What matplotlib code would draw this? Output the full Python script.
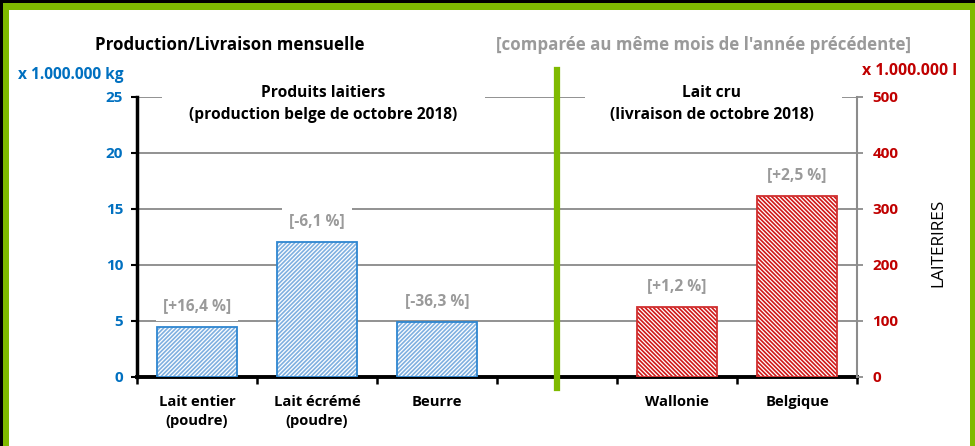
import matplotlib
matplotlib.use("Agg")
import matplotlib.pyplot as plt
from matplotlib.lines import Line2D
from matplotlib.patches import Rectangle
from matplotlib.transforms import blended_transform_factory

# Data
categories = ["Lait entier\n(poudre)", "Lait écrémé\n(poudre)", "Beurre", "", "Wallonie", "Belgique"]
dairy_pos = [0, 1, 2]
dairy_values = [4.45, 12.05, 4.9]          # x 1.000.000 kg
dairy_changes = ["[+16,4 %]", "[-6,1 %]", "[-36,3 %]"]
milk_pos = [4, 5]
milk_values = [125, 323]                   # x 1.000.000 l
milk_changes = ["[+1,2 %]", "[+2,5 %]"]
left_ticks = [0, 5, 10, 15, 20, 25]
right_ticks = [0, 100, 200, 300, 400, 500]

BLUE = "#0070C0"
RED = "#C00000"
GRAY_TXT = "#9A9A9A"
GREEN = "#7FBA00"

plt.rcParams["font.family"] = ["Open Sans", "DejaVu Sans"]
plt.rcParams["font.weight"] = "bold"
plt.rcParams["hatch.linewidth"] = 1.2

W, H = 975, 446
fig = plt.figure(figsize=(W / 100, H / 100), dpi=100)
fig.patch.set_facecolor("white")

# frame: black rim top/left, green border top/left/right
fig.add_artist(Rectangle((0, 1 - 3 / H), 1, 3 / H, transform=fig.transFigure,
                         color="black", lw=0, zorder=0))
fig.add_artist(Rectangle((0, 0), 3 / W, 1, transform=fig.transFigure,
                         color="black", lw=0, zorder=0))
fig.add_artist(Rectangle((3 / W, 1 - 10 / H), 1, 7 / H, transform=fig.transFigure,
                         color=GREEN, lw=0, zorder=0))
fig.add_artist(Rectangle((3 / W, 0), 6 / W, 1 - 3 / H, transform=fig.transFigure,
                         color=GREEN, lw=0, zorder=0))
fig.add_artist(Rectangle((970 / W, 0), 5 / W, 1 - 3 / H, transform=fig.transFigure,
                         color=GREEN, lw=0, zorder=0))

ax = fig.add_axes([137 / W, (H - 377) / H, (857 - 137) / W, (377 - 97) / H])
ax2 = ax.twinx()

ax.set_xlim(-0.5, 5.5)
ax.set_ylim(0, 25)
ax2.set_ylim(0, 500)

# gridlines
ax.set_yticks(left_ticks)
ax.yaxis.grid(True, color="#7F7F7F", linewidth=1.2)
ax.set_axisbelow(True)

# bars: hatch layer then outline
ax2.bar(dairy_pos, [v * 20 for v in dairy_values], width=0.67, color="white",
        hatch="////////", edgecolor="#7FB0E0", linewidth=0, zorder=2)
ax2.bar(dairy_pos, [v * 20 for v in dairy_values], width=0.67, fill=False,
        edgecolor="#2E86D0", linewidth=1.3, zorder=3)
ax2.bar(milk_pos, milk_values, width=0.67, color="white",
        hatch="\\\\\\\\\\\\\\\\", edgecolor="#D01818", linewidth=0, zorder=2)
ax2.bar(milk_pos, milk_values, width=0.67, fill=False,
        edgecolor="#D03030", linewidth=1.3, zorder=3)

# change labels with white boxes (they cut the gridlines)
for x, v, t in zip(dairy_pos, dairy_values, dairy_changes):
    ax2.annotate(t, (x, v * 20), xytext=(0, 15), textcoords="offset points",
                 ha="center", va="center", fontsize=11.2, color=GRAY_TXT, zorder=5,
                 bbox=dict(boxstyle="square,pad=0.45", fc="white", ec="none"))
for x, v, t in zip(milk_pos, milk_values, milk_changes):
    ax2.annotate(t, (x, v), xytext=(0, 15), textcoords="offset points",
                 ha="center", va="center", fontsize=11.2, color=GRAY_TXT, zorder=5,
                 bbox=dict(boxstyle="square,pad=0.45", fc="white", ec="none"))

# axes styling
for a in (ax, ax2):
    a.spines["top"].set_visible(False)
ax.spines["left"].set_linewidth(2.5)
ax.spines["left"].set_color("black")
ax.spines["bottom"].set_linewidth(2.8)
ax.spines["bottom"].set_color("black")
ax.spines["right"].set_visible(False)
ax2.spines["left"].set_visible(False)
ax2.spines["bottom"].set_visible(False)
ax2.spines["right"].set_color("#8C8C8C")
ax2.spines["right"].set_linewidth(1.5)

ax.set_xticks([i - 0.5 for i in range(7)])
ax.set_xticklabels([])
ax.set_xticks(range(6), minor=True)
ax.set_xticklabels(categories, minor=True, fontsize=10.6, linespacing=1.45)
ax.tick_params(axis="x", which="major", length=5, width=1.8, color="black")
ax.tick_params(axis="x", which="minor", length=0, pad=13)

ax.tick_params(axis="y", length=4, width=1.5, color="black", pad=6,
               labelsize=11, labelcolor=BLUE)

ax2.set_yticks(right_ticks)
ax2.tick_params(axis="y", length=4, width=1.3, color="#8C8C8C", pad=7,
                labelsize=11, labelcolor=RED)

# white gaps in the top gridline behind the section headers
tr = blended_transform_factory(ax.transData, ax.transAxes)
for x0, x1 in [(-0.29, 2.4), (3.23, 5.375)]:
    ax2.add_patch(Rectangle((x0, 0.9), x1 - x0, 0.2, transform=tr, color="white",
                            lw=0, zorder=4, clip_on=False))
ax2.text(1.05, 0.975, "Produits laitiers\n(production belge de octobre 2018)",
         transform=tr, ha="center", va="center", fontsize=11.2,
         linespacing=1.55, zorder=6)
ax2.text(4.29, 0.975, "Lait cru\n(livraison de octobre 2018)",
         transform=tr, ha="center", va="center", fontsize=11.2,
         linespacing=1.55, zorder=6)

# green separator
sep = blended_transform_factory(ax.transData, fig.transFigure)
fig.add_artist(Line2D([3, 3], [(H - 70) / H, (H - 388) / H], transform=sep,
                      color=GREEN, linewidth=4.5, zorder=10))

# titles and units
fig.text(230 / W, 1 - 45 / H, "Production/Livraison mensuelle", ha="center",
         va="center", fontsize=12.2, color="black")
fig.text(703 / W, 1 - 45 / H, "[comparée au même mois de l'année précédente]",
         ha="center", va="center", fontsize=12.2, color=GRAY_TXT)
fig.text(71 / W, 1 - 75 / H, "x 1.000.000 kg", ha="center", va="center",
         fontsize=11.2, color=BLUE)
fig.text(910 / W, 1 - 71 / H, "x 1.000.000 l", ha="center", va="center",
         fontsize=11.4, color=RED)
fig.text(938 / W, 1 - 243 / H, "LAITERIRES", ha="center", va="center",
         rotation=90, fontsize=12.4, fontweight="normal", color="black")

fig.savefig("out.png", dpi=100)
plt.close(fig)
